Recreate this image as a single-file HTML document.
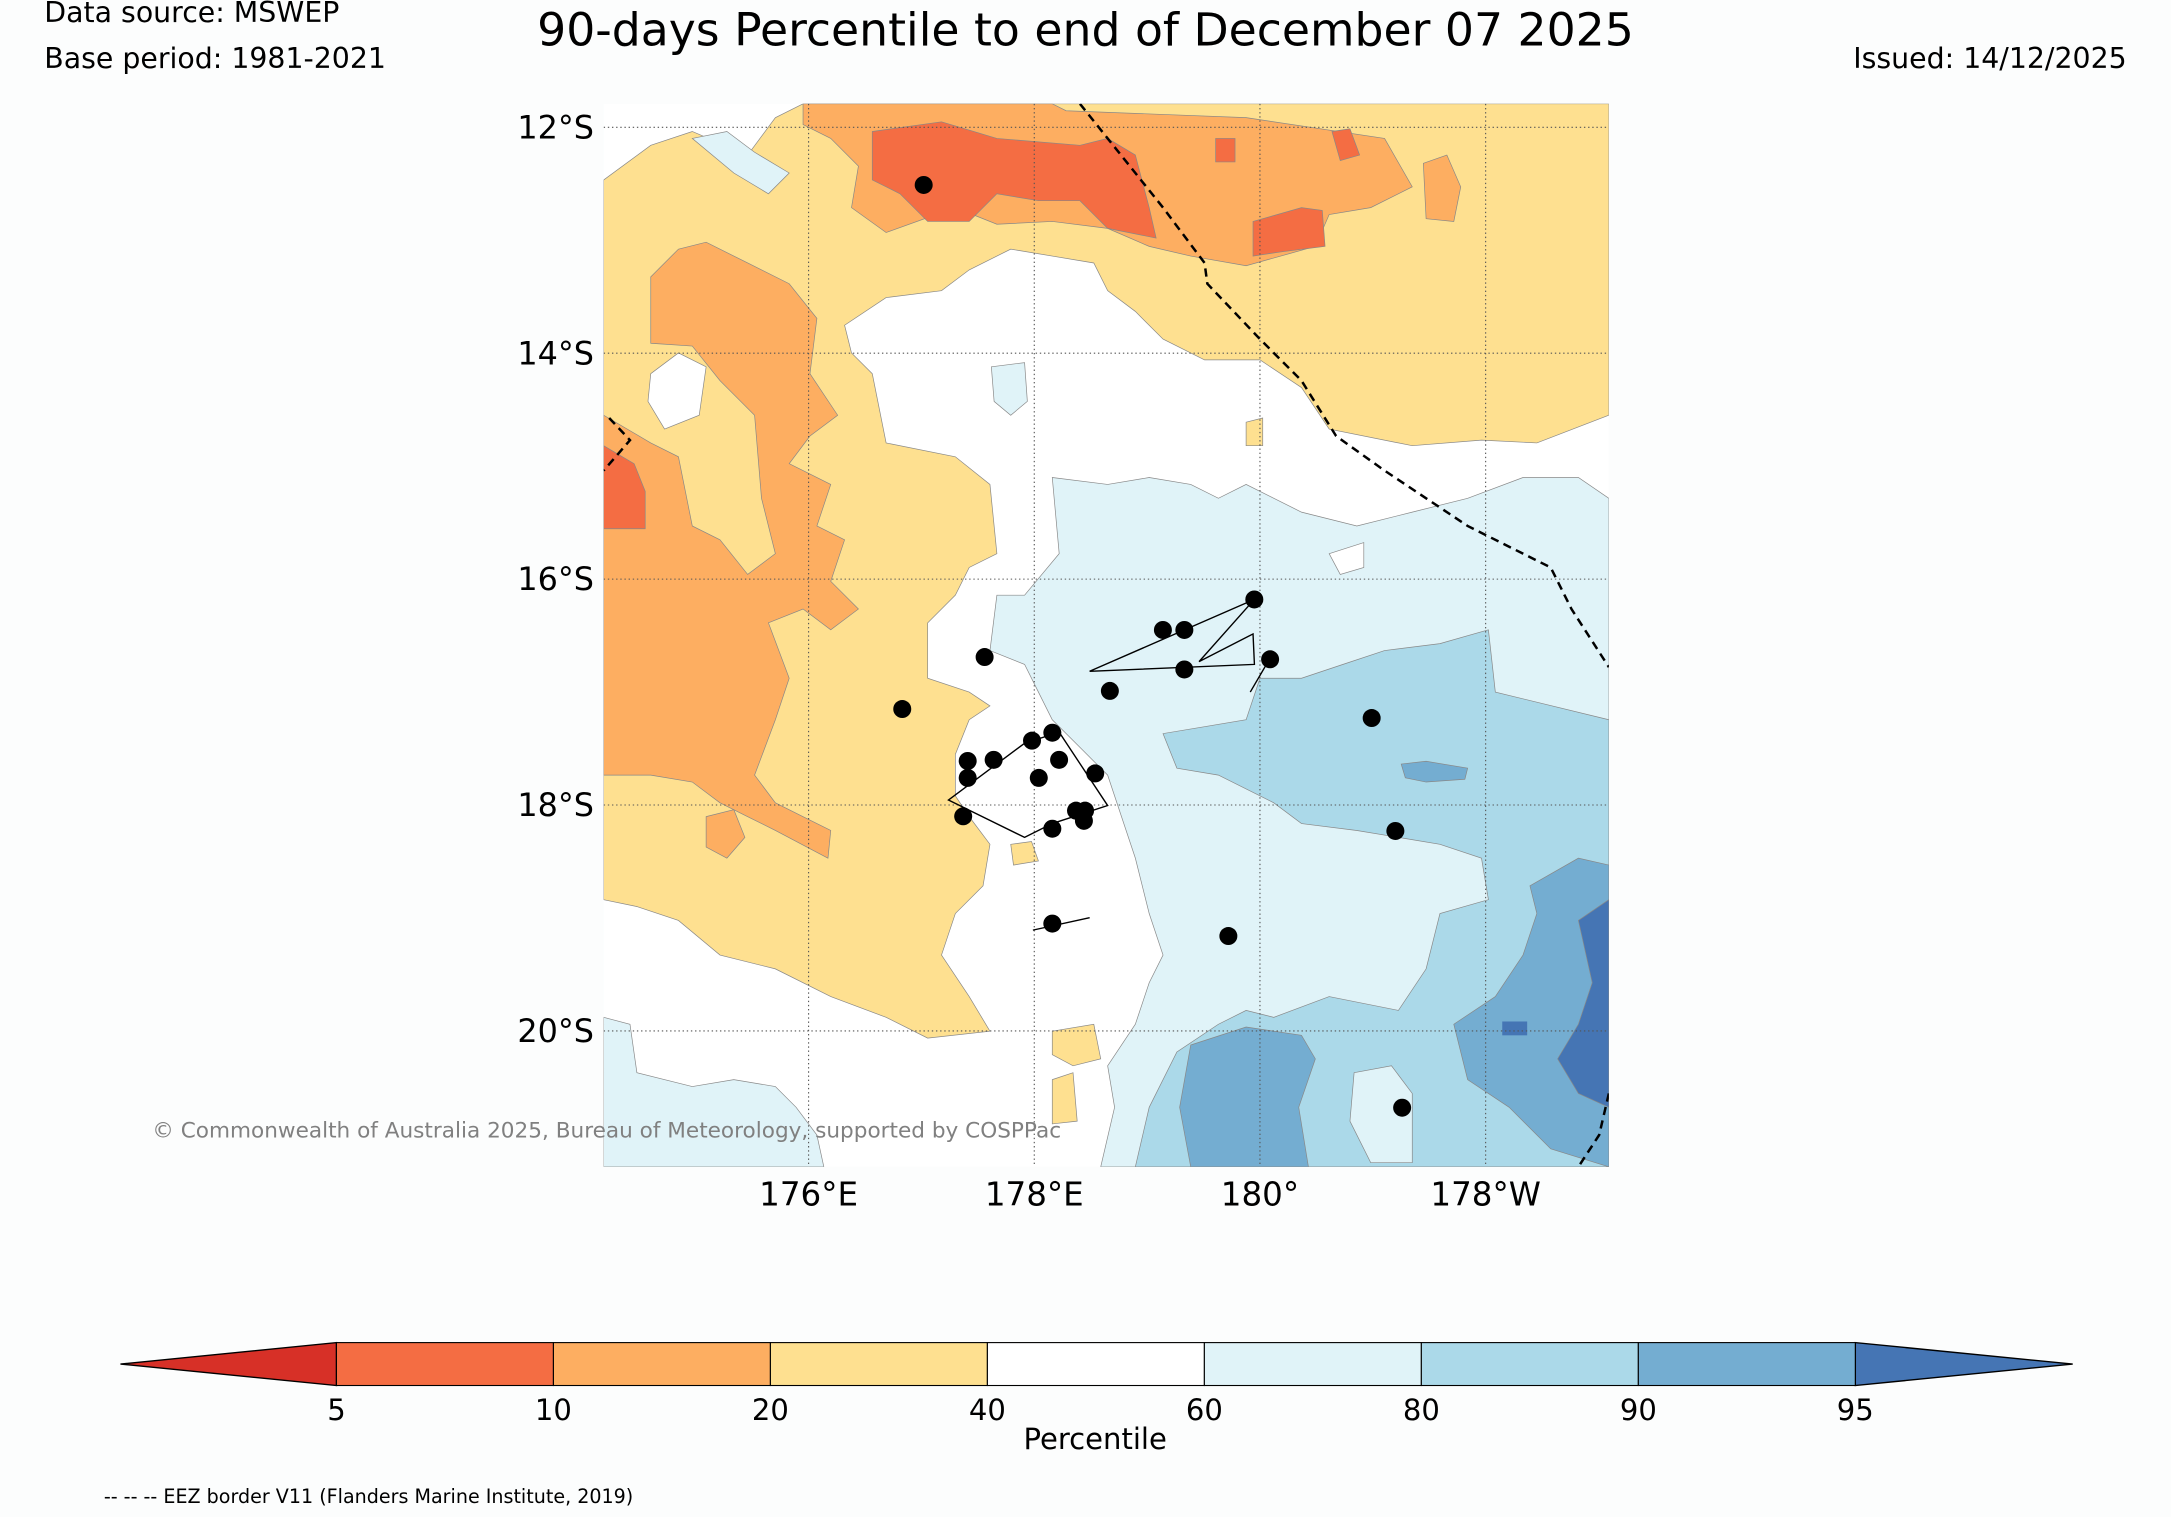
<!DOCTYPE html>
<html><head><meta charset="utf-8"><style>
html,body{margin:0;padding:0;background:#fcfdfd;}
svg{display:block;}
text{font-family:"DejaVu Sans","Liberation Sans",sans-serif;}
</style></head><body>
<svg id="chart" width="2171" height="1517" viewBox="0 0 1568 1096" preserveAspectRatio="none" xmlns="http://www.w3.org/2000/svg">
<rect width="1568" height="1096" fill="#fcfdfd"/>
<text x="32" y="16" font-size="20.5">Data source: MSWEP</text>
<text x="32" y="49" font-size="20.5">Base period: 1981-2021</text>
<text x="784" y="33" font-size="33" text-anchor="middle">90-days Percentile to end of December 07 2025</text>
<text x="1536" y="49" font-size="20.5" text-anchor="end">Issued: 14/12/2025</text>
<defs><clipPath id="mapclip"><rect x="436" y="75" width="726" height="768"/></clipPath></defs>
<g id="map" clip-path="url(#mapclip)">
<rect x="436" y="75" width="726" height="768" fill="#ffffff"/>
<polygon fill="#fee090" stroke="#888" stroke-width="0.5" points="436,130 470,105 500,95 540,112 560,85 580,75 1162,75 1162,300 1110,320 1070,318 1020,322 960,310 940,280 910,260 870,260 840,245 820,225 800,210 790,190 760,185 730,180 700,195 680,210 640,215 610,235 615,255 630,270 640,320 690,330 715,350 720,400 700,410 690,430 670,450 670,490 700,500 715,510 700,520 690,545 690,575 700,590 715,610 710,640 690,660 680,690 700,720 715,745 670,750 640,735 600,720 560,700 520,690 490,665 460,655 436,650"/>
<polygon fill="#ffffff" stroke="#888" stroke-width="0.5" points="470,270 490,255 510,265 505,300 480,310 468,290"/>
<polygon fill="#e0f3f8" stroke="#888" stroke-width="0.5" points="500,100 525,95 545,110 570,125 555,140 530,125"/>
<polygon fill="#fdae61" stroke="#888" stroke-width="0.5" points="470,200 490,180 510,175 540,190 570,205 590,230 585,270 605,300 585,315 570,335 600,350 590,380 610,390 600,420 620,440 600,455 580,440 555,450 570,490 560,520 545,560 560,580 580,590 600,600 598,620 560,600 540,590 520,580 500,565 470,560 436,560 436,300 470,320 490,330 500,380 520,390 540,415 560,400 550,360 545,300 520,275 500,250 470,248"/>
<polygon fill="#fdae61" stroke="#888" stroke-width="0.5" points="510,590 530,585 538,605 525,620 510,612"/>
<polygon fill="#fdae61" stroke="#888" stroke-width="0.5" points="580,75 760,75 770,80 900,85 1000,100 1020,135 990,150 960,155 950,178 900,192 860,185 830,178 800,165 760,160 720,162 690,150 640,168 615,150 620,120 600,100 580,90"/>
<polygon fill="#fdae61" stroke="#888" stroke-width="0.5" points="1028,118 1045,112 1055,135 1050,160 1030,158"/>
<polygon fill="#f46d43" stroke="#888" stroke-width="0.5" points="630,95 680,88 720,100 780,105 800,100 820,112 830,150 835,172 800,165 780,145 750,145 720,140 700,160 670,160 650,140 630,130"/>
<polygon fill="#f46d43" stroke="#888" stroke-width="0.5" points="905,160 940,150 955,152 957,178 925,182 905,185"/>
<polygon fill="#f46d43" stroke="#888" stroke-width="0.5" points="962,95 975,93 982,112 968,116"/>
<polygon fill="#f46d43" stroke="#888" stroke-width="0.5" points="878,100 892,100 892,117 878,117"/>
<polygon fill="#f46d43" stroke="#888" stroke-width="0.5" points="436,322 458,335 466,355 466,382 436,382"/>
<polygon fill="#e0f3f8" stroke="#888" stroke-width="0.5" points="760,345 800,350 830,345 860,350 880,360 900,350 940,370 980,380 1020,370 1060,360 1100,345 1140,345 1162,360 1162,843 795,843 805,800 800,770 820,740 830,710 840,690 830,660 820,620 810,590 800,560 780,540 760,520 750,500 740,480 715,470 720,430 740,430 765,400"/>
<polygon fill="#ffffff" stroke="#888" stroke-width="0.5" points="960,400 985,392 985,410 968,415"/>
<polygon fill="#e0f3f8" stroke="#888" stroke-width="0.5" points="436,735 455,740 460,775 500,785 530,780 560,785 575,800 590,820 595,843 436,843"/>
<polygon fill="#e0f3f8" stroke="#888" stroke-width="0.5" points="716,265 740,262 742,290 730,300 718,290"/>
<polygon fill="#fee090" stroke="#888" stroke-width="0.5" points="760,745 790,740 795,765 775,770 760,762"/>
<polygon fill="#fee090" stroke="#888" stroke-width="0.5" points="760,780 775,775 778,810 760,812"/>
<polygon fill="#fee090" stroke="#888" stroke-width="0.5" points="730,610 745,608 750,622 732,625"/>
<polygon fill="#fee090" stroke="#888" stroke-width="0.5" points="900,305 912,302 912,322 900,322"/>
<polygon fill="#abd9e9" stroke="#888" stroke-width="0.5" points="910,490 940,490 970,480 1000,470 1040,465 1075,455 1080,500 1162,520 1162,843 820,843 830,800 850,760 880,740 900,730 920,735 960,720 1010,730 1030,700 1040,660 1075,650 1070,620 1040,610 1010,605 980,600 940,595 920,580 880,560 850,555 840,530 870,525 900,520"/>
<polygon fill="#e0f3f8" stroke="#888" stroke-width="0.5" points="978,775 1005,770 1020,790 1020,840 990,840 975,810"/>
<polygon fill="#74add1" stroke="#888" stroke-width="0.5" points="1105,640 1140,620 1162,625 1162,843 1120,830 1090,800 1060,780 1050,740 1080,720 1100,690 1110,660"/>
<polygon fill="#74add1" stroke="#888" stroke-width="0.5" points="860,755 900,742 940,748 950,765 938,800 945,843 860,843 852,800"/>
<polygon fill="#74add1" stroke="#888" stroke-width="0.5" points="1012,552 1030,550 1060,555 1058,563 1030,565 1015,562"/>
<polygon fill="#4575b4" stroke="#888" stroke-width="0.5" points="1140,665 1162,650 1162,800 1140,790 1125,765 1140,740 1150,710"/>
<rect x="1085" y="738" width="18" height="10" fill="#4575b4"/>
<g id="grid"></g>
<polyline fill="none" stroke="#000" stroke-width="1.8" stroke-dasharray="6,4" points="780,75 800,100 840,150 870,190 872,205 910,245 940,275 965,315 1000,340 1060,380 1120,410 1135,440 1162,482"/>
<polyline fill="none" stroke="#000" stroke-width="1.8" stroke-dasharray="6,4" points="1162,790 1155,820 1140,843"/>
<polyline fill="none" stroke="#000" stroke-width="1.8" stroke-dasharray="6,4" points="440,302 455,318 436,340"/>
<polygon fill="none" stroke="#000" stroke-width="1" points="685,578 740,537 765,529 800,582 760,595 740,605"/>
<polygon fill="none" stroke="#000" stroke-width="1" points="787,485 906,433 866,478 905,458 906,480"/>
<polyline fill="none" stroke="#000" stroke-width="1" points="903,500 917,476"/>
<polyline fill="none" stroke="#000" stroke-width="1" points="746,672 787,663"/>
<g id="dots"></g>
</g>
<g id="axes"></g>
<text x="110" y="822" font-size="15.6" fill="#808080">© Commonwealth of Australia 2025, Bureau of Meteorology, supported by COSPPac</text>
<g id="cbar"></g>
<text x="791" y="1047" font-size="21" text-anchor="middle">Percentile</text>
<text x="75" y="1086" font-size="13.8">-- -- -- EEZ border V11 (Flanders Marine Institute, 2019)</text>
</svg>
<script>
var lonTicks = [176, 178, 180, 182];
var lonTickLabels = ["176°E", "178°E", "180°", "178°W"];
var latTicks = [12, 14, 16, 18, 20];
var latTickLabels = ["12°S", "14°S", "16°S", "18°S", "20°S"];
var stationLon = [177.02,177.56,176.83,177.41,177.41,177.64,177.98,178.16,178.22,178.04,178.54,177.37,178.16,178.37,178.45,178.44,178.16,178.67,179.14,179.33,179.95,179.33,180.09,180.99,181.20,179.72,181.26];
var stationLat = [12.51,16.69,17.15,17.61,17.76,17.60,17.43,17.36,17.60,17.76,17.72,18.10,18.21,18.05,18.05,18.14,19.05,16.99,16.45,16.45,16.18,16.80,16.71,17.23,18.23,19.16,20.68];
var cbarBounds = [5, 10, 20, 40, 60, 80, 90, 95];
var cbarColors = ["#f46d43","#fdae61","#fee090","#ffffff","#e0f3f8","#abd9e9","#74add1"];
var cbarUnder = "#d73027", cbarOver = "#4575b4";

var NS = "http://www.w3.org/2000/svg";
function xOf(lon){ return 584 + (lon - 176) * 81.5; }
function yOf(lat){ return 92 + (lat - 12) * 81.6; }
function mk(tag, attrs, parent){ var e = document.createElementNS(NS, tag); for (var k in attrs) e.setAttribute(k, attrs[k]); parent.appendChild(e); return e; }

var grid = document.getElementById('grid');
var axes = document.getElementById('axes');
lonTicks.forEach(function(v, i){
  var x = xOf(v);
  var l = mk('line', {x1:x, x2:x, y1:75, y2:843, stroke:'#555', 'stroke-width':0.8, 'stroke-dasharray':'1,2'}, grid);
  
  
  var t = mk('text', {x:x, y:871, 'font-size':23.5, 'text-anchor':'middle'}, axes);
  t.textContent = lonTickLabels[i];
  
  
});
latTicks.forEach(function(v, i){
  var y = yOf(v);
  var l = mk('line', {x1:436, x2:1162, y1:y, y2:y, stroke:'#555', 'stroke-width':0.8, 'stroke-dasharray':'1,2'}, grid);
  
  
  var t = mk('text', {x:429, y:y + 8, 'font-size':23, 'text-anchor':'end'}, axes);
  t.textContent = latTickLabels[i];
  
  
});
var dots = document.getElementById('dots');
stationLon.forEach(function(lon, i){
  var c = mk('circle', {cx:xOf(lon), cy:yOf(stationLat[i]), r:6.5, fill:'#000'}, dots);
  
  
});
var cb = document.getElementById('cbar');
var cx0 = 243, cx1 = 1340, cy0 = 970, cy1 = 1001, n = cbarColors.length;
function cbX(i){ return cx0 + (cx1 - cx0) * i / n; }
var under = mk('polygon', {points:'87,985.5 '+cx0+','+cy0+' '+cx0+','+cy1, fill:cbarUnder, stroke:'#000', 'stroke-width':1}, cb);


var over = mk('polygon', {points:'1497,985.5 '+cx1+','+cy0+' '+cx1+','+cy1, fill:cbarOver, stroke:'#000', 'stroke-width':1}, cb);


cbarColors.forEach(function(col, i){
  var r = mk('rect', {x:cbX(i), y:cy0, width:cbX(i+1)-cbX(i), height:cy1-cy0, fill:col, stroke:'#000', 'stroke-width':0.8}, cb);
  
  
});
cbarBounds.forEach(function(v, i){
  var t = mk('text', {x:cbX(i), y:1026, 'font-size':21, 'text-anchor':'middle'}, cb);
  t.textContent = v;
  
  
});
</script>
</body></html>
